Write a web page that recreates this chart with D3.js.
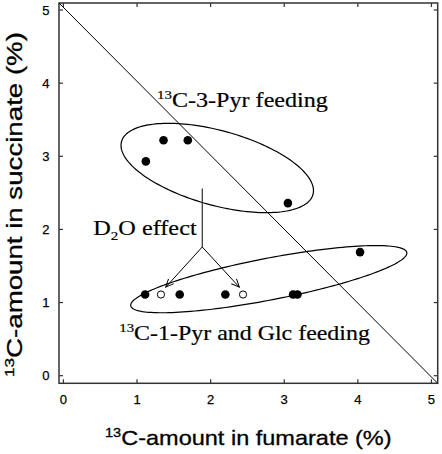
<!DOCTYPE html>
<html><head><meta charset="utf-8">
<script src="https://cdn.jsdelivr.net/npm/d3@7"></script>
<style>html,body{margin:0;padding:0;background:#fff;}svg{display:block;}</style>
</head><body>
<svg id="chart" width="442" height="454"></svg>
<script>
// ---- data ----
const xTicks = [0, 1, 2, 3, 4, 5];
const yTicks = [0, 1, 2, 3, 4, 5];
const pyr3Fumarate = [1.12, 1.36, 1.69, 3.05];
const pyr3Succinate = [2.93, 3.22, 3.22, 2.36];
const pyr1GlcFumarate = [1.11, 1.58, 2.20, 3.12, 3.18, 4.03];
const pyr1GlcSuccinate = [1.11, 1.11, 1.11, 1.11, 1.11, 1.69];
const d2oFumarate = [1.325, 2.44];
const d2oSuccinate = [1.11, 1.11];
const diagonal = [[-0.06, 5.096], [5.085, -0.104]];
// group outlines: [cx, cy, semi-major, semi-minor, angle deg]
const groupEllipses = [[2.09, 2.84, 1.35, 0.51, -15.6], [2.79, 1.32, 1.91, 0.285, 11]];
// D2O effect arrow (data coords)
const arrowStem = [[1.886, 2.56], [1.886, 1.76]];
const arrowTips = [[1.39, 1.21], [2.39, 1.21]];

const svg = d3.select("#chart");
const x = d3.scaleLinear().domain([-0.06, 5.085]).range([59, 437.7]);
const y = d3.scaleLinear().domain([-0.104, 5.096]).range([383.3, 3]);
const [X0, X1] = x.range(), [Y0, Y1] = y.range();

// ticks (inward, all four sides)
const tl = 4;
const tg = svg.append("g").attr("stroke", "#333").attr("stroke-width", 1.2);
xTicks.forEach(t => {
  tg.append("line").attr("x1", x(t)).attr("x2", x(t)).attr("y1", Y0).attr("y2", Y0 - tl);
  tg.append("line").attr("x1", x(t)).attr("x2", x(t)).attr("y1", Y1).attr("y2", Y1 + tl);
});
yTicks.forEach(t => {
  tg.append("line").attr("y1", y(t)).attr("y2", y(t)).attr("x1", X0).attr("x2", X0 + tl);
  tg.append("line").attr("y1", y(t)).attr("y2", y(t)).attr("x1", X1).attr("x2", X1 - tl);
});
svg.append("rect").attr("x", X0).attr("y", Y1).attr("width", X1 - X0).attr("height", Y0 - Y1)
  .attr("fill", "none").attr("stroke", "#333").attr("stroke-width", 1.5);

// tick labels
const sans = "'Liberation Sans', Arial, sans-serif";
const serif = "'Liberation Serif', 'Times New Roman', serif";
svg.append("g").selectAll("text").data(xTicks).join("text")
  .attr("x", d => x(d)).attr("y", 404).attr("text-anchor", "middle")
  .attr("font-family", sans).attr("font-size", 13).attr("fill", "#000")
  .attr("stroke", "#000").attr("stroke-width", 0.25).text(d => d);
svg.append("g").selectAll("text").data(yTicks).join("text")
  .attr("x", 49.5).attr("y", d => y(d) + 4.6).attr("text-anchor", "end")
  .attr("font-family", sans).attr("font-size", 13).attr("fill", "#000")
  .attr("stroke", "#000").attr("stroke-width", 0.25).text(d => d);

// diagonal line
svg.append("path").attr("d", d3.line().x(d => x(d[0])).y(d => y(d[1]))(diagonal))
  .attr("stroke", "#000").attr("stroke-width", 1).attr("fill", "none");

// ellipses
groupEllipses.forEach(([cx, cy, a, b, ang]) => {
  const th = ang * Math.PI / 180;
  const pts = d3.range(0, 2 * Math.PI, Math.PI / 90).map(t => {
    const u = a * Math.cos(t), v = b * Math.sin(t);
    return [cx + u * Math.cos(th) - v * Math.sin(th), cy + u * Math.sin(th) + v * Math.cos(th)];
  });
  svg.append("path").attr("d", d3.line().x(d => x(d[0])).y(d => y(d[1])).curve(d3.curveLinearClosed)(pts))
    .attr("fill", "none").attr("stroke", "#000").attr("stroke-width", 1.2);
});

// arrow
svg.append("defs").append("marker").attr("id", "arr").attr("markerUnits", "userSpaceOnUse")
  .attr("viewBox", "-10 -6 12 12").attr("refX", 0).attr("refY", 0)
  .attr("markerWidth", 12).attr("markerHeight", 12).attr("orient", "auto")
  .append("path").attr("d", "M-8,-3.5L0,0L-8,3.5").attr("fill", "none").attr("stroke", "#000").attr("stroke-width", 1);
const ln = d3.line().x(d => x(d[0])).y(d => y(d[1]));
svg.append("path").attr("d", ln(arrowStem)).attr("stroke", "#000").attr("fill", "none");
arrowTips.forEach(tp => {
  svg.append("path").attr("d", ln([arrowStem[1], tp])).attr("stroke", "#000").attr("fill", "none")
    .attr("marker-end", "url(#arr)");
});

// points
const zip = (a, b) => a.map((v, i) => [v, b[i]]);
svg.append("g").selectAll("circle").data(zip(pyr3Fumarate, pyr3Succinate).concat(zip(pyr1GlcFumarate, pyr1GlcSuccinate)))
  .join("circle").attr("cx", d => x(d[0])).attr("cy", d => y(d[1])).attr("r", 4.3).attr("fill", "#000");
svg.append("g").selectAll("circle").data(zip(d2oFumarate, d2oSuccinate))
  .join("circle").attr("cx", d => x(d[0])).attr("cy", d => y(d[1])).attr("r", 3.6)
  .attr("fill", "#fff").attr("stroke", "#000").attr("stroke-width", 1);

// text helper: fit text to target width
function fitText(parts, font, size, x0, base, width, rotate, bold) {
  const g = svg.append("g");
  const t = g.append("text").attr("font-family", font).attr("font-size", size).attr("fill", "#000");
  if (bold) t.attr("stroke", "#000").attr("stroke-width", bold);
  parts.forEach(p => {
    const s = t.append("tspan").text(p.t);
    if (p.sup) s.attr("font-size", size * 0.62).attr("dy", -size * 0.36);
    else if (p.sub) s.attr("font-size", size * 0.62).attr("dy", size * 0.22);
    else if (p.reset) s.attr("dy", p.reset * size);
  });
  const w = t.node().getComputedTextLength();
  const sx = width / w;
  if (rotate) g.attr("transform", `translate(${x0},${base}) rotate(-90) scale(${sx},1)`);
  else g.attr("transform", `translate(${x0},${base}) scale(${sx},1)`);
}
fitText([{t: "13", sup: true}, {t: "C-3-Pyr feeding", reset: 0.36}], serif, 21.5, 157, 107, 171, false, 0.2);
fitText([{t: "D"}, {t: "2", sub: true}, {t: "O effect", reset: -0.22}], serif, 21.5, 93.3, 235, 103.4, false, 0.2);
fitText([{t: "13", sup: true}, {t: "C-1-Pyr and Glc feeding", reset: 0.36}], serif, 21.5, 119.3, 340, 250.7, false, 0.2);
fitText([{t: "13", sup: true}, {t: "C-amount in fumarate (%)", reset: 0.36}], sans, 21, 105, 445, 286.7, false, 0.3);
fitText([{t: "13", sup: true}, {t: "C-amount in succinate (%)", reset: 0.36}], sans, 21.5, 22, 377, 345, true, 0.3);
</script>
</body></html>
